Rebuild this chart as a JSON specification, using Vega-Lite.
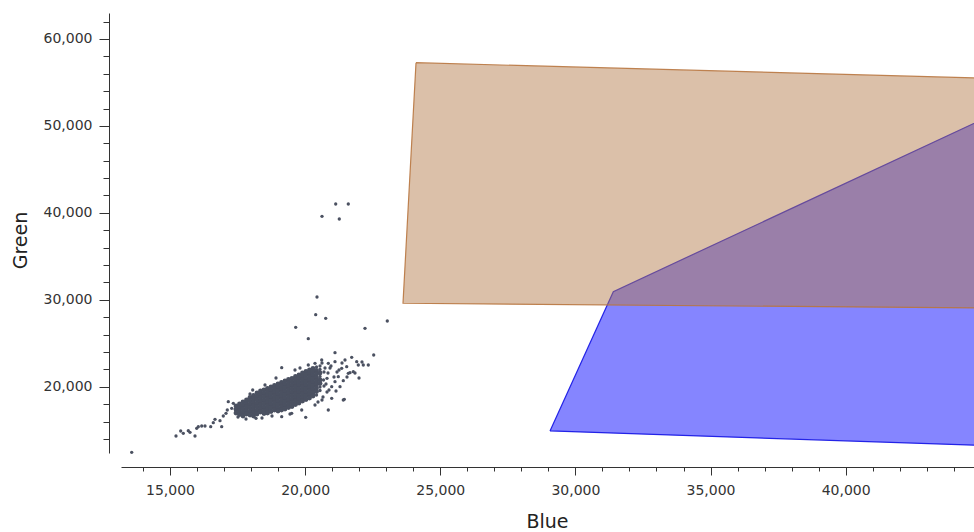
{
  "$schema": "https://vega.github.io/schema/vega-lite/v6.json",
  "width": 853,
  "height": 440,
  "autosize": {"type": "none"},
  "padding": {"left": 121, "top": 13, "right": 0, "bottom": 79},
  "background": "white",
  "config": {
    "view": {"stroke": null},
    "axis": {
      "grid": false,
      "labelFont": "DejaVu Sans",
      "labelFontSize": 14,
      "labelColor": "#333333",
      "domainColor": "#333333",
      "tickColor": "#333333",
      "titleFont": "DejaVu Sans",
      "titleFontSize": 19,
      "titleFontWeight": "normal",
      "titleColor": "#222222",
      "labelFlush": false,
      "labelOverlap": false
    }
  },
  "datasets": {
    "polys": [
      {"poly": "blue", "o": 1, "b": 29060, "g": 14920},
      {"poly": "blue", "o": 2, "b": 31402, "g": 30941},
      {"poly": "blue", "o": 3, "b": 46000, "g": 52120},
      {"poly": "blue", "o": 4, "b": 46000, "g": 13159},
      {"poly": "blue", "o": 5, "b": 29060, "g": 14920},
      {"poly": "brown", "o": 1, "b": 24102, "g": 57275},
      {"poly": "brown", "o": 2, "b": 46000, "g": 55409},
      {"poly": "brown", "o": 3, "b": 46000, "g": 29034},
      {"poly": "brown", "o": 4, "b": 23621, "g": 29607},
      {"poly": "brown", "o": 5, "b": 24102, "g": 57275}
    ],
    "core": [
      {"b":17442,"g":17792},{"b":17442,"g":17390},{"b":17442,"g":16987},
      {"b":17572,"g":18022},{"b":17572,"g":17620},{"b":17572,"g":17217},{"b":17572,"g":16815},
      {"b":17701,"g":18252},{"b":17701,"g":17850},{"b":17701,"g":17447},{"b":17701,"g":17045},{"b":17701,"g":16642},
      {"b":17831,"g":18482},{"b":17831,"g":18080},{"b":17831,"g":17677},{"b":17831,"g":17275},{"b":17831,"g":16872},
      {"b":17960,"g":18770},{"b":17960,"g":18367},{"b":17960,"g":17965},{"b":17960,"g":17562},{"b":17960,"g":17160},{"b":17960,"g":16757},
      {"b":18090,"g":18999},{"b":18090,"g":18597},{"b":18090,"g":18195},{"b":18090,"g":17792},{"b":18090,"g":17390},{"b":18090,"g":16987},{"b":18090,"g":16642},
      {"b":18219,"g":19287},{"b":18219,"g":18885},{"b":18219,"g":18482},{"b":18219,"g":18080},{"b":18219,"g":17677},{"b":18219,"g":17275},{"b":18219,"g":16872},
      {"b":18349,"g":19517},{"b":18349,"g":19115},{"b":18349,"g":18712},{"b":18349,"g":18310},{"b":18349,"g":17907},{"b":18349,"g":17505},{"b":18349,"g":17102},
      {"b":18478,"g":19632},{"b":18478,"g":19230},{"b":18478,"g":18827},{"b":18478,"g":18425},{"b":18478,"g":18022},{"b":18478,"g":17620},{"b":18478,"g":17217},{"b":18478,"g":16930},
      {"b":18608,"g":19805},{"b":18608,"g":19402},{"b":18608,"g":19000},{"b":18608,"g":18597},{"b":18608,"g":18195},{"b":18608,"g":17792},{"b":18608,"g":17390},{"b":18608,"g":16987},
      {"b":18737,"g":19977},{"b":18737,"g":19575},{"b":18737,"g":19172},{"b":18737,"g":18770},{"b":18737,"g":18367},{"b":18737,"g":17965},{"b":18737,"g":17562},{"b":18737,"g":17160},
      {"b":18867,"g":20150},{"b":18867,"g":19747},{"b":18867,"g":19345},{"b":18867,"g":18942},{"b":18867,"g":18540},{"b":18867,"g":18137},{"b":18867,"g":17735},{"b":18867,"g":17332},
      {"b":18996,"g":20322},{"b":18996,"g":19920},{"b":18996,"g":19517},{"b":18996,"g":19115},{"b":18996,"g":18712},{"b":18996,"g":18310},{"b":18996,"g":17907},{"b":18996,"g":17505},{"b":18996,"g":17217},
      {"b":19126,"g":20495},{"b":19126,"g":20092},{"b":19126,"g":19690},{"b":19126,"g":19287},{"b":19126,"g":18885},{"b":19126,"g":18482},{"b":19126,"g":18080},{"b":19126,"g":17677},{"b":19126,"g":17332},
      {"b":19255,"g":20667},{"b":19255,"g":20265},{"b":19255,"g":19862},{"b":19255,"g":19460},{"b":19255,"g":19057},{"b":19255,"g":18655},{"b":19255,"g":18252},{"b":19255,"g":17850},{"b":19255,"g":17447},
      {"b":19385,"g":20840},{"b":19385,"g":20437},{"b":19385,"g":20035},{"b":19385,"g":19632},{"b":19385,"g":19230},{"b":19385,"g":18827},{"b":19385,"g":18425},{"b":19385,"g":18022},{"b":19385,"g":17620},
      {"b":19514,"g":20955},{"b":19514,"g":20552},{"b":19514,"g":20150},{"b":19514,"g":19747},{"b":19514,"g":19345},{"b":19514,"g":18942},{"b":19514,"g":18540},{"b":19514,"g":18137},{"b":19514,"g":17735},
      {"b":19644,"g":21185},{"b":19644,"g":20782},{"b":19644,"g":20380},{"b":19644,"g":19977},{"b":19644,"g":19575},{"b":19644,"g":19172},{"b":19644,"g":18770},{"b":19644,"g":18367},{"b":19644,"g":17965},
      {"b":19773,"g":21357},{"b":19773,"g":20955},{"b":19773,"g":20552},{"b":19773,"g":20150},{"b":19773,"g":19747},{"b":19773,"g":19345},{"b":19773,"g":18942},{"b":19773,"g":18540},{"b":19773,"g":18137},
      {"b":19903,"g":21587},{"b":19903,"g":21185},{"b":19903,"g":20782},{"b":19903,"g":20380},{"b":19903,"g":19977},{"b":19903,"g":19575},{"b":19903,"g":19172},{"b":19903,"g":18770},{"b":19903,"g":18367},
      {"b":20032,"g":21760},{"b":20032,"g":21357},{"b":20032,"g":20955},{"b":20032,"g":20552},{"b":20032,"g":20150},{"b":20032,"g":19747},{"b":20032,"g":19345},{"b":20032,"g":18942},{"b":20032,"g":18540},
      {"b":20162,"g":21932},{"b":20162,"g":21530},{"b":20162,"g":21127},{"b":20162,"g":20725},{"b":20162,"g":20322},{"b":20162,"g":19920},{"b":20162,"g":19517},{"b":20162,"g":19115},{"b":20162,"g":18712},
      {"b":20291,"g":22105},{"b":20291,"g":21702},{"b":20291,"g":21300},{"b":20291,"g":20897},{"b":20291,"g":20495},{"b":20291,"g":20092},{"b":20291,"g":19690},{"b":20291,"g":19287},{"b":20291,"g":18942},
      {"b":20421,"g":21875},{"b":20421,"g":21472},{"b":20421,"g":21070},{"b":20421,"g":20667},{"b":20421,"g":20265},{"b":20421,"g":19862},{"b":20421,"g":19460},
      {"b":20550,"g":21587},{"b":20550,"g":20782},{"b":20550,"g":20380}
    ],
    "pts": [
      {"b":20421,"g":22277},{"b":20421,"g":19057},{"b":20550,"g":22392},{"b":20550,"g":21990},{"b":20550,"g":21185},{"b":20550,"g":19977},{"b":20550,"g":19575},
      {"b":20698,"g":21702},{"b":20809,"g":20972},{"b":20698,"g":20092},{"b":20920,"g":22162},{"b":21179,"g":21702},{"b":20809,"g":19402},{"b":20680,"g":20782},
      {"b":20624,"g":22737},{"b":20735,"g":22162},{"b":20846,"g":21587},{"b":20957,"g":22392},{"b":21068,"g":21127},{"b":20772,"g":20322},{"b":20883,"g":19632},{"b":20661,"g":18827},{"b":21142,"g":19517},{"b":21253,"g":21932},{"b":21364,"g":22737},{"b":21549,"g":21127},{"b":21845,"g":21587},{"b":21993,"g":21012},{"b":22104,"g":22852},{"b":20476,"g":18252},{"b":20624,"g":18482},{"b":20365,"g":17907},
      {"b":18404,"g":16412},{"b":18774,"g":16642},{"b":19440,"g":16872},{"b":17812,"g":16297},{"b":17516,"g":16527},{"b":17960,"g":19172},{"b":18515,"g":20207},{"b":19810,"g":22162},{"b":18922,"g":21012},
      {"b":13583,"g":12467},{"b":15222,"g":14342},{"b":15396,"g":14917},{"b":15492,"g":14653},{"b":15677,"g":14952},{"b":15740,"g":14767},{"b":15925,"g":14342},{"b":15988,"g":15228},{"b":16047,"g":15412},{"b":16173,"g":15492},{"b":16295,"g":15492},{"b":16506,"g":15412},{"b":16602,"g":15872},{"b":16665,"g":16262},{"b":16850,"g":16102},{"b":16913,"g":15412},{"b":16972,"g":16642},{"b":17072,"g":16952},{"b":17120,"g":17332},{"b":17157,"g":18287},{"b":17283,"g":17527},{"b":17342,"g":18102},
      {"b":18182,"g":16377},{"b":18060,"g":19632},{"b":19133,"g":16562},{"b":20021,"g":16492},{"b":19503,"g":16952},{"b":19873,"g":17332},{"b":19133,"g":22197},{"b":19625,"g":21932},{"b":20117,"g":22507},{"b":20365,"g":22702},{"b":20613,"g":23082},{"b":20857,"g":22702},{"b":21105,"g":22887},{"b":21105,"g":23922},{"b":21723,"g":23392},{"b":21967,"g":22507},{"b":21597,"g":21552},{"b":21353,"g":22127},{"b":21782,"g":21737},{"b":21290,"g":20012},{"b":20983,"g":18677},{"b":21412,"g":18482},{"b":20857,"g":17332},{"b":21475,"g":23082},{"b":21908,"g":22887},{"b":21538,"g":22312},{"b":21227,"g":21162},{"b":21105,"g":20587},{"b":20983,"g":20012},{"b":21412,"g":20702},{"b":21449,"g":18562},{"b":21660,"g":21621},{"b":22152,"g":22507},{"b":22337,"g":22507},{"b":22537,"g":23657},
      {"b":22215,"g":26727},{"b":23040,"g":27567},{"b":20117,"g":25532},{"b":19651,"g":26842},{"b":20761,"g":27877},{"b":20391,"g":28291},{"b":20439,"g":30327},
      {"b":21131,"g":41022},{"b":21597,"g":41022},{"b":20624,"g":39607},{"b":21264,"g":39297}
    ]
  },
  "layer": [
    {
      "data": {"name": "polys"},
      "transform": [{"filter": "datum.poly === 'blue'"}],
      "mark": {"type": "line", "filled": true, "clip": true, "fill": "#0000ff", "fillOpacity": 0.48, "stroke": "#1a1ae6", "strokeWidth": 1.2, "strokeOpacity": 0.95},
      "encoding": {
        "x": {"field": "b", "type": "quantitative", "scale": {"domain": [13187, 44748], "nice": false, "zero": false},
          "axis": {"orient": "bottom", "offset": 14, "values": [15000, 20000, 25000, 30000, 35000, 40000], "format": ",d", "tickSize": 8, "labelPadding": 8,
            "title": "Blue", "titleX": 426, "titleY": 60, "titleBaseline": "alphabetic", "titleAlign": "center"}},
        "y": {"field": "g", "type": "quantitative", "scale": {"domain": [12387, 62987], "nice": false, "zero": false},
          "axis": {"orient": "left", "offset": 12, "values": [20000, 30000, 40000, 50000, 60000], "format": ",d", "tickSize": 10, "labelPadding": 7,
            "title": "Green", "titleX": -83, "titleY": 227, "titleBaseline": "alphabetic", "titleAlign": "center", "titleAngle": 270}},
        "order": {"field": "o", "type": "quantitative"}
      }
    },
    {
      "data": {"name": "polys"},
      "transform": [{"filter": "datum.poly === 'brown'"}],
      "mark": {"type": "line", "filled": true, "clip": true, "fill": "#b27a49", "fillOpacity": 0.47, "stroke": "#b8763f", "strokeWidth": 1.2, "strokeOpacity": 0.9},
      "encoding": {
        "x": {"field": "b", "type": "quantitative", "scale": {"domain": [13187, 44748], "nice": false, "zero": false}, "axis": null},
        "y": {"field": "g", "type": "quantitative", "scale": {"domain": [12387, 62987], "nice": false, "zero": false}, "axis": null},
        "order": {"field": "o", "type": "quantitative"}
      }
    },
    {
      "data": {"name": "core"},
      "mark": {"type": "circle", "size": 24, "color": "#4b5161", "opacity": 1},
      "encoding": {
        "x": {"field": "b", "type": "quantitative", "scale": {"domain": [13187, 44748], "nice": false, "zero": false}, "axis": null},
        "y": {"field": "g", "type": "quantitative", "scale": {"domain": [12387, 62987], "nice": false, "zero": false}, "axis": null}
      }
    },
    {
      "data": {"name": "pts"},
      "mark": {"type": "circle", "size": 11, "color": "#4b5161", "opacity": 1},
      "encoding": {
        "x": {"field": "b", "type": "quantitative", "scale": {"domain": [13187, 44748], "nice": false, "zero": false},
          "axis": {"orient": "bottom", "offset": 14, "labels": false, "domain": false, "title": null, "tickSize": 4,
            "values": [14000, 16000, 17000, 18000, 19000, 21000, 22000, 23000, 24000, 26000, 27000, 28000, 29000, 31000, 32000, 33000, 34000, 36000, 37000, 38000, 39000, 41000, 42000, 43000, 44000]}},
        "y": {"field": "g", "type": "quantitative", "scale": {"domain": [12387, 62987], "nice": false, "zero": false},
          "axis": {"orient": "left", "offset": 12, "labels": false, "domain": false, "title": null, "tickSize": 6,
            "values": [14000, 16000, 18000, 22000, 24000, 26000, 28000, 32000, 34000, 36000, 38000, 42000, 44000, 46000, 48000, 52000, 54000, 56000, 58000, 62000]}}
      }
    }
  ],
  "resolve": {"axis": {"x": "independent", "y": "independent"}}
}
